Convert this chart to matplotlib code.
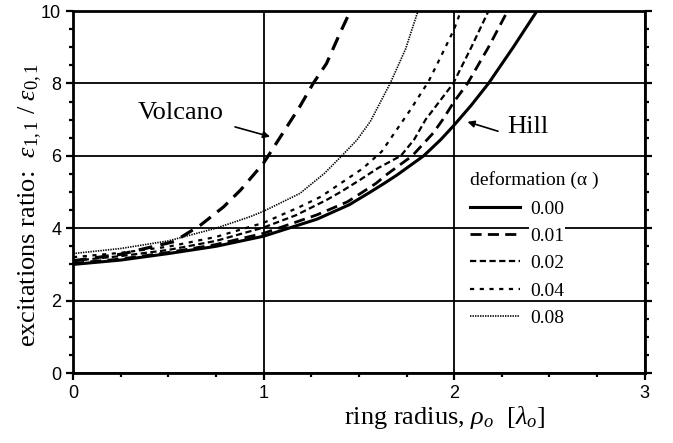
import matplotlib
matplotlib.use('Agg')
import matplotlib.pyplot as plt

plt.rcParams['font.family'] = ['Liberation Serif', 'DejaVu Serif']
plt.rcParams['mathtext.fontset'] = 'custom'
plt.rcParams['mathtext.rm'] = 'Liberation Serif'
plt.rcParams['mathtext.it'] = 'Liberation Serif:italic'
plt.rcParams['mathtext.default'] = 'it'
plt.rcParams['lines.scale_dashes'] = False

# values (ring radius -> excitation ratio)
x_000 = [0, 0.25, 0.5, 0.75, 1.0, 1.28, 1.45, 1.56, 1.63, 1.7, 1.84, 1.93, 2.0, 2.09, 2.18, 2.31, 2.434]
y_000 = [3.0, 3.12, 3.3, 3.5, 3.78, 4.25, 4.65, 5.0, 5.23, 5.47, 6.0, 6.45, 6.85, 7.4, 8.0, 9.0, 10.0]

x_001 = [0, 0.25, 0.5, 0.75, 1.0, 1.28, 1.44, 1.52, 1.59, 1.65, 1.78, 1.89, 1.94, 2.0, 2.07, 2.18, 2.28]
y_001 = [3.03, 3.15, 3.33, 3.55, 3.86, 4.37, 4.73, 5.0, 5.24, 5.5, 6.0, 6.63, 7.0, 7.5, 8.0, 9.0, 10.0]

x_002 = [0, 0.25, 0.5, 0.75, 1.0, 1.17, 1.33, 1.41, 1.51, 1.6, 1.72, 1.79, 1.85, 1.995, 2.09, 2.18]
y_002 = [3.1, 3.23, 3.4, 3.65, 4.02, 4.36, 4.78, 5.02, 5.35, 5.66, 6.0, 6.45, 7.0, 8.0, 9.0, 10.0]

x_004 = [0, 0.25, 0.5, 0.75, 1.0, 1.19, 1.3, 1.52, 1.62, 1.77, 1.865, 1.93, 2.0, 2.035]
y_004 = [3.2, 3.32, 3.49, 3.76, 4.15, 4.59, 4.87, 5.65, 6.12, 7.27, 8.05, 8.74, 9.5, 10.0]

x_008 = [0, 0.25, 0.5, 0.75, 0.93, 1.0, 1.19, 1.32, 1.41, 1.49, 1.56, 1.664, 1.745, 1.81]
y_008 = [3.3, 3.44, 3.65, 4.0, 4.32, 4.47, 4.96, 5.52, 6.0, 6.44, 6.95, 8.0, 8.95, 10.0]

x_volcano = [0, 0.25, 0.53, 0.67, 0.79, 0.88, 1.0, 1.19, 1.26, 1.33, 1.40, 1.455]
y_volcano = [3.1, 3.28, 3.63, 4.09, 4.59, 5.06, 5.8, 7.36, 8.0, 8.55, 9.38, 10.0]

labels = ['0.00', '0.01', '0.02', '0.04', '0.08']

fig = plt.figure(figsize=(6.73, 4.43), dpi=100)
ax = fig.add_axes([0.1085, 0.158, 0.8495, 0.817])

ax.plot(x_000, y_000, color='black', lw=2.2, label=labels[0], zorder=3)
ax.plot(x_001, y_001, color='black', lw=2.0, dashes=(8, 4.5), label=labels[1], zorder=3)
ax.plot(x_002, y_002, color='black', lw=1.6, dashes=(4.5, 2.5), label=labels[2], zorder=3)
ax.plot(x_004, y_004, color='black', lw=1.6, dashes=(3, 4), label=labels[3], zorder=3)
ax.plot(x_008, y_008, color='black', lw=1.2, dashes=(1, 0.8), label=labels[4], zorder=3)
ax.plot(x_volcano, y_volcano, color='black', lw=2.3, dashes=(10, 6), zorder=3)

ax.set_xlim(0, 3)
ax.set_ylim(0, 10)
ax.set_xticks([0, 1, 2, 3])
ax.set_xticks([0.25, 0.5, 0.75, 1.25, 1.5, 1.75, 2.25, 2.5, 2.75], minor=True)
ax.set_yticks([0, 2, 4, 6, 8, 10])
ax.set_yticks([v * 0.5 for v in range(21) if v % 4 != 0], minor=True)
ax.grid(True, which='major', color='black', lw=1.3, zorder=1)
ax.set_axisbelow(True)
for sp in ax.spines.values():
    sp.set_linewidth(2.0)

ax.tick_params(which='both', direction='out', right=True, width=1.6)
ax.tick_params(which='major', length=5)
ax.tick_params(which='minor', length=3)
for lab in ax.get_xticklabels() + ax.get_yticklabels():
    lab.set_family('Liberation Sans')
    lab.set_fontsize(13)

ax.set_xlabel(r'ring radius, $ρ_o$  [$λ_o$]', fontsize=19)
ax.xaxis.set_label_coords(0.65, -0.085)
ax.set_ylabel(r'excitations ratio:  $ε_{1,1}$ / $ε_{0,1}$', fontsize=19)
ax.yaxis.set_label_coords(-0.05, 0.464)

# annotations with arrows
ax.text(0.567, 7.18, 'Volcano', fontsize=19, ha='center', va='center')
ax.annotate('', xy=(1.034, 6.53), xytext=(0.85, 6.8),
            arrowprops=dict(arrowstyle='-|>', color='black', lw=1.2,
                            mutation_scale=10, shrinkA=0, shrinkB=0))
ax.text(2.28, 6.8, 'Hill', fontsize=19, ha='left', va='center')
ax.annotate('', xy=(2.07, 6.94), xytext=(2.23, 6.68),
            arrowprops=dict(arrowstyle='-|>', color='black', lw=1.2,
                            mutation_scale=10, shrinkA=0, shrinkB=0))

leg = ax.legend(loc='upper left', bbox_to_anchor=(0.68, 0.58), frameon=False,
                fontsize=14, title='deformation (α )', title_fontsize=14,
                handlelength=2.6, handletextpad=0.5, labelspacing=0.5,
                alignment='left', borderaxespad=0)
leg._legend_box.sep = 8
for t in leg.get_texts():
    t.set_bbox(dict(facecolor='white', edgecolor='none', pad=0.5))

fig.savefig('out.png', dpi=100, facecolor='white')
